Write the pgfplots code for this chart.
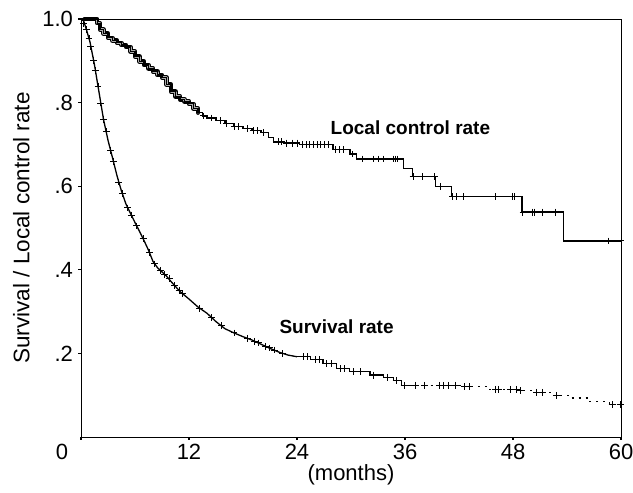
\documentclass[border=0pt]{standalone}
\usepackage{pgfplots}
\pgfplotsset{compat=1.18}
\usepackage{fontspec}
\setmainfont{Liberation Sans}
\begin{document}
\begin{tikzpicture}
\begin{axis}[
  name=ax,
  scale only axis,
  width=540pt, height=418pt,
  xmin=0, xmax=60, ymin=0, ymax=1,
  axis line style={black, line width=0.9pt},
  xtick={12,24,36,48,60},
  xticklabels={12,24,36,48,60},
  extra x ticks={0},
  extra x tick labels={0},
  extra x tick style={xticklabel style={xshift=-19pt}},
  ytick={0.2,0.4,0.6,0.8,1.0},
  yticklabels={.2,.4,.6,.8,1.0},
  xtick pos=bottom, ytick pos=left,
  tick align=outside,
  major tick length=2.5pt,
  tick style={black, line width=1.2pt},
  ticklabel style={font=\fontsize{22}{25}\selectfont},
  xticklabel style={yshift=-1pt},
  yticklabel style={xshift=-2pt},
  xlabel={(months)},
  ylabel={Survival / Local control rate},
  xlabel style={font=\fontsize{22}{25}\selectfont, yshift=7pt},
  ylabel style={font=\fontsize{22.5}{26}\selectfont, yshift=6pt},
  clip=false,
]
% Local control: thick early band
\addplot[const plot, black, line width=4.6pt, line cap=round, line join=round] coordinates {
(0.4,1.0)(1.5,1.0)(1.8,0.99)(2.1,0.975)(2.5,0.965)(3.0,0.955)(3.5,0.948)(4.0,0.943)(4.5,0.938)(5.0,0.933)(5.5,0.922)(6.0,0.910)(6.5,0.898)(7.0,0.890)(7.5,0.882)(8.0,0.874)(8.5,0.866)(9.0,0.860)(9.5,0.843)(10.0,0.826)(10.5,0.815)(11.0,0.808)(11.5,0.803)(12.0,0.797)(12.5,0.786)(13.0,0.776)
};
\addplot[const plot, gray!65, line width=2.2pt, line cap=round, line join=round] coordinates {
(0.4,1.0)(1.5,1.0)(1.8,0.99)(2.1,0.975)(2.5,0.965)(3.0,0.955)(3.5,0.948)(4.0,0.943)(4.5,0.938)(5.0,0.933)(5.5,0.922)(6.0,0.910)(6.5,0.898)(7.0,0.890)(7.5,0.882)(8.0,0.874)(8.5,0.866)(9.0,0.860)(9.5,0.843)(10.0,0.826)(10.5,0.815)(11.0,0.808)(11.5,0.803)(12.0,0.797)(12.5,0.786)(13.0,0.776)
};
% Local control curve
\addplot[const plot, black, line width=1.3pt] coordinates {
(0,1.0)(1.5,1.0)(1.8,0.99)(2.1,0.975)(2.5,0.965)(3.0,0.955)(3.5,0.948)(4.0,0.943)(4.5,0.938)(5.0,0.933)(5.5,0.922)(6.0,0.910)(6.5,0.898)(7.0,0.890)(7.5,0.882)(8.0,0.874)(8.5,0.866)(9.0,0.860)(9.5,0.843)(10.0,0.826)(10.5,0.815)(11.0,0.808)(11.5,0.803)(12.0,0.797)(12.5,0.786)(13.0,0.776)(13.5,0.768)(14.0,0.763)(15.0,0.757)(16.0,0.750)(17.0,0.743)(18.0,0.738)(19.0,0.733)(20.0,0.728)(20.8,0.716)(21.4,0.706)(22.5,0.703)(24.3,0.699)(28.0,0.687)(29.9,0.677)(30.6,0.665)(35.8,0.643)(36.8,0.623)(39.4,0.600)(41.2,0.575)(49.0,0.538)(53.6,0.469)(60,0.469)
};
% Local control censor marks
\addplot[only marks, mark=+, mark size=3.4pt, black, mark options={line width=1pt}] coordinates {
(13.6,0.768)(14.5,0.763)(15.5,0.757)(16.2,0.750)(17.0,0.743)(17.5,0.743)(18.5,0.738)(19.2,0.733)(19.6,0.733)(20.3,0.728)(21.9,0.706)(22.3,0.706)(22.8,0.703)(23.5,0.703)(24.0,0.703)(24.6,0.699)(25.0,0.699)(25.4,0.699)(25.8,0.699)(26.3,0.699)(26.6,0.699)(27.0,0.699)(27.5,0.699)(28.3,0.687)(28.7,0.687)(29.2,0.687)(30.2,0.677)(31.3,0.665)(32.5,0.665)(33.0,0.665)(33.6,0.665)(34.7,0.665)(34.9,0.665)(35.2,0.665)(36.9,0.623)(37.9,0.623)(39.3,0.623)(39.9,0.600)(41.3,0.575)(41.7,0.575)(42.5,0.575)(46.0,0.575)(47.9,0.575)(48.2,0.575)(49.1,0.538)(50.2,0.538)(50.4,0.538)(51.3,0.538)(52.7,0.538)(58.6,0.469)(60,0.469)
};
% Survival curve, early part (many small steps, drawn smooth)
\addplot[black, line width=1.3pt, line join=round] coordinates {
(0,1.0)(0.3,0.995)(0.6,0.975)(1.0,0.945)(1.5,0.890)(2.0,0.825)(2.5,0.760)(3.0,0.710)(3.5,0.668)(4.0,0.625)(4.5,0.588)(5.0,0.557)(5.5,0.535)(6.0,0.513)(6.5,0.492)(7.0,0.470)(7.5,0.447)(8.0,0.420)(8.5,0.405)(9.0,0.395)(9.5,0.385)(10.0,0.372)(10.5,0.360)(11.0,0.348)(12.0,0.330)(13.0,0.311)(14.0,0.296)(15.0,0.276)(16.0,0.259)(17.0,0.249)(18.0,0.240)(19.0,0.232)(20.0,0.222)(21.0,0.212)(22.0,0.203)(23.0,0.196)(24.0,0.192)
};
% Survival curve, later steps
\addplot[const plot, black, line width=1.3pt] coordinates {
(24.0,0.192)(25.5,0.185)(26.9,0.176)(28.4,0.164)(29.8,0.156)(32.1,0.148)(33.6,0.143)(34.7,0.136)(35.6,0.124)(36.5,0.124)
};
% Survival curve (faint tail)
\addplot[const plot, black, line width=1.3pt, dash pattern=on 2pt off 5pt] coordinates {
(36.5,0.124)(42.4,0.120)(45.4,0.114)(48.7,0.111)(50.6,0.107)(52.8,0.100)(54.3,0.093)(56.5,0.085)(58.7,0.077)(60,0.077)
};
% Survival censor marks
\addplot[only marks, mark=+, mark size=3.4pt, black, mark options={line width=1pt}] coordinates {
(0.3,0.99)(0.6,0.975)(0.9,0.953)(1.1,0.934)(1.4,0.901)(1.6,0.877)(1.9,0.838)(2.2,0.799)(2.5,0.760)(2.8,0.730)(3.3,0.685)(3.6,0.660)(4.2,0.610)(4.6,0.582)(5.2,0.548)(5.6,0.531)(6.2,0.505)(6.9,0.474)(7.6,0.442)(8.2,0.414)(8.8,0.399)(9.3,0.389)(9.8,0.380)(10.4,0.362)(10.9,0.350)(11.3,0.343)(13.2,0.308)(14.5,0.286)(15.6,0.266)(17.0,0.249)(18.5,0.236)(19.3,0.229)(19.7,0.225)(20.5,0.217)(20.9,0.213)(21.5,0.208)(22.4,0.200)(24.7,0.192)(25.2,0.192)(26.0,0.185)(26.5,0.185)(27.3,0.176)(27.8,0.176)(28.8,0.164)(29.3,0.164)(30.3,0.156)(31.0,0.156)(32.5,0.148)(34.0,0.143)(35.0,0.136)(35.9,0.124)(37.2,0.124)(38.2,0.124)(39.8,0.124)(40.3,0.124)(40.8,0.124)(41.6,0.124)(42.6,0.120)(43.2,0.120)(46.0,0.114)(46.4,0.114)(47.7,0.114)(48.4,0.114)(48.8,0.111)(50.6,0.107)(51.3,0.107)(52.8,0.100)(59.0,0.077)(59.9,0.077)
};
\node[font=\bfseries\fontsize{19}{22}\selectfont] at (axis cs:36.6,0.739) {Local control rate};
\node[font=\bfseries\fontsize{19}{22}\selectfont] at (axis cs:28.4,0.263) {Survival rate};
\end{axis}
\pgfresetboundingbox
\path[use as bounding box] ([xshift=-81pt,yshift=-55pt]ax.south west) rectangle ([xshift=12pt,yshift=19pt]ax.north east);
\end{tikzpicture}
\end{document}
